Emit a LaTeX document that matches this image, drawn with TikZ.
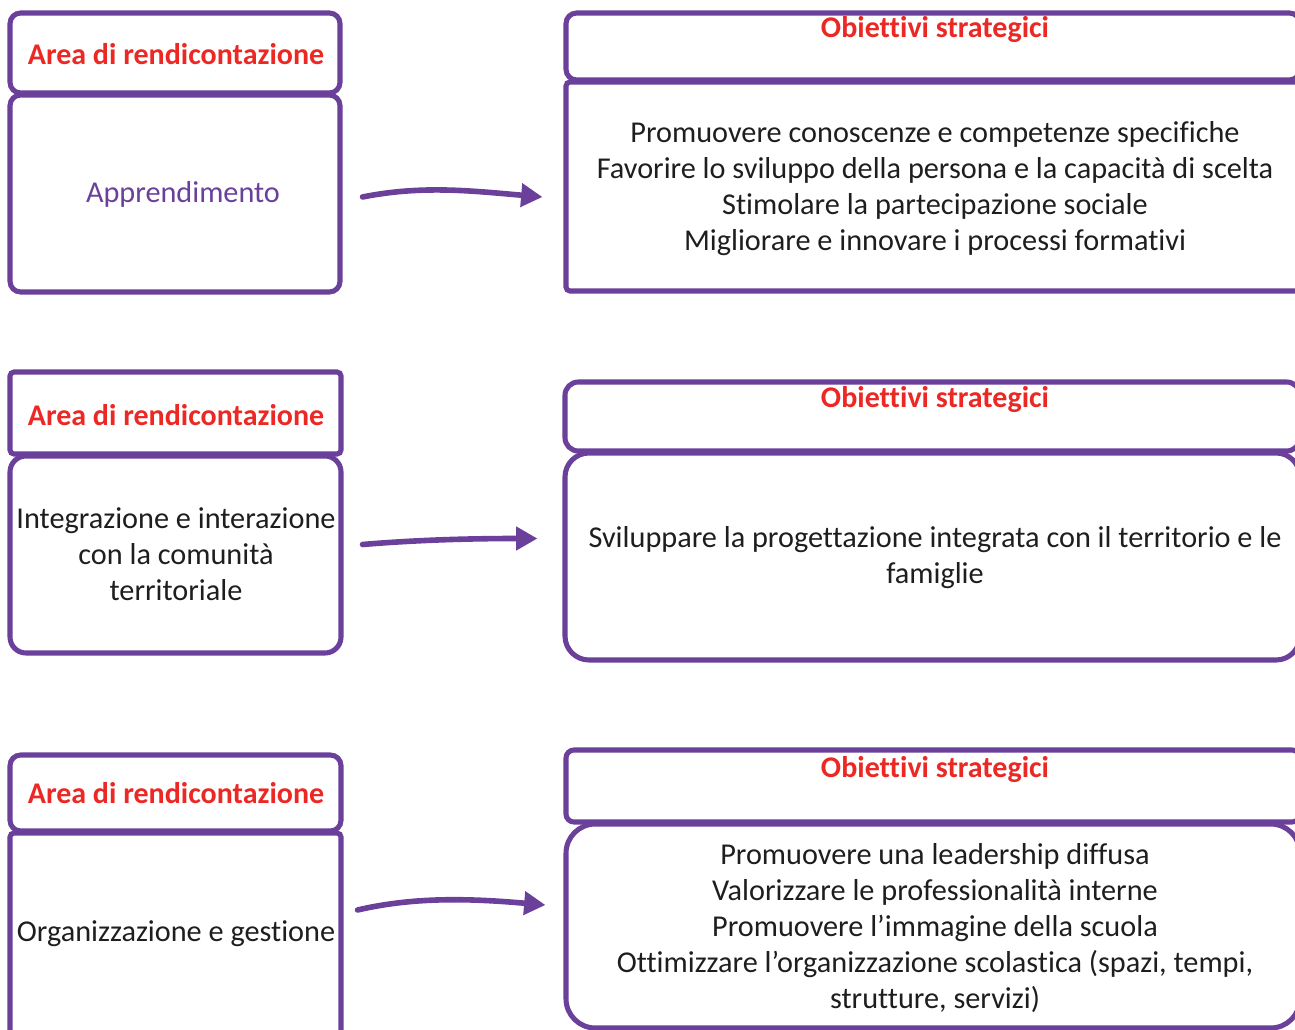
\documentclass[tikz,border=0pt]{standalone}
\usepackage{fontspec}
\setmainfont[Ligatures=NoCommon]{Carlito}
\usetikzlibrary{arrows.meta,fit,calc}
\definecolor{pur}{RGB}{106,64,155}
\definecolor{rd}{RGB}{236,40,36}
\definecolor{txt}{RGB}{30,30,30}
\tikzset{
  box/.style={draw=pur, line width=3.8pt, inner sep=0pt, rounded corners=8pt, fill=white},
  hdr/.style={text=rd, font=\bfseries\fontsize{22.5pt}{27pt}\selectfont, inner sep=0pt},
  body/.style={text=txt, font=\fontsize{22.7pt}{27pt}\selectfont, align=center, inner sep=0pt},
  arr/.style={draw=pur, line width=4.2pt, line cap=round, -{Triangle[length=16pt,width=17pt]}},
}
\begin{document}
\begin{tikzpicture}[x=0.75pt,y=-0.75pt]
\useasboundingbox (0,0) rectangle (1295,1030);
\clip (0,0) rectangle (1295,1030);
\fill[white] (0,0) rectangle (1295,1030);
% Row 1
\node[box, fit={(10,13)(340,93)}] (lh1) {};
\node[box, fit={(10,95)(340,292)}] (lb1) {};
\node[box, fit={(566,13)(1300,80)}] (rh1) {};
\node[box, fit={(566,82)(1300,291)}, rounded corners=3pt] (rb1) {};
\node[hdr] (lh1t) at (176,54) {Area di rendicontazione};
\node[body, text=pur] (lb1t) at (183,194) {Apprendimento};
\node[hdr] (rh1t) at (935,30) {Obiettivi strategici};
\node[body] (rb1t) at (935,189) {Promuovere conoscenze e competenze specifiche\\Favorire lo sviluppo della persona e la capacità di scelta\\Stimolare la partecipazione sociale\\Migliorare e innovare i processi formativi};
% Row 2
\node[box, fit={(10,372)(341,454)}, rounded corners=3pt] (lh2) {};
\node[box, fit={(10,456)(341,653)}, rounded corners=12pt] (lb2) {};
\node[box, fit={(565,382)(1300,451)}, rounded corners=10pt] (rh2) {};
\node[box, fit={(565,453)(1300,660)}, rounded corners=18pt] (rb2) {};
\node[hdr] (lh2t) at (176,415) {Area di rendicontazione};
\node[body] (lb2t) at (176,554) {Integrazione e interazione\\con la comunità\\territoriale};
\node[hdr] (rh2t) at (935,400) {Obiettivi strategici};
\node[body] (rb2t) at (935,558) {Sviluppare la progettazione integrata con il territorio e le\\famiglie};
% Row 3
\node[box, fit={(10,755)(341,831)}] (lh3) {};
\node[box, fit={(10,833)(341,1045)}, rounded corners=3pt] (lb3) {};
\node[box, fit={(566,750)(1300,822)}, rounded corners=6pt] (rh3) {};
\node[box, fit={(566,824)(1300,1028)}, rounded corners=22pt] (rb3) {};
\node[hdr] (lh3t) at (176,793) {Area di rendicontazione};
\node[body] (lb3t) at (176,934) {Organizzazione e gestione};
\node[hdr] (rh3t) at (935,770) {Obiettivi strategici};
\node[body] (rb3t) at (935,928) {Promuovere una leadership diffusa\\Valorizzare le professionalità interne\\Promuovere l’immagine della scuola\\Ottimizzare l’organizzazione scolastica (spazi, tempi,\\strutture, servizi)};
% Arrows
\draw[arr] ([shift={(20,3.5)}]lb1.east) .. controls +(60,-12) and +(-70,-6) .. ([shift={(-21,10.5)}]rb1.west);
\draw[arr] ([shift={(19,-10)}]lb2.east) .. controls +(60,-5) and +(-60,0) .. ([shift={(-25,-18)}]rb2.west);
\draw[arr] ([shift={(14,-29)}]lb3.east) .. controls +(60,-14) and +(-70,-6) .. ([shift={(-18,-21)}]rb3.west);
\end{tikzpicture}
\end{document}
